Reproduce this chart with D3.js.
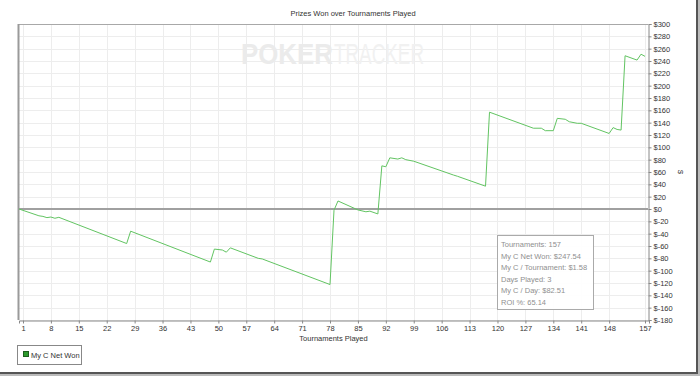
<!DOCTYPE html>
<html>
<head>
<meta charset="utf-8">
<script src="https://cdn.jsdelivr.net/npm/d3@7"></script>
<style>
  html, body { margin: 0; padding: 0; background: #fff; }
  svg { display: block; }
  text { font-family: "Liberation Sans", Arial, sans-serif; }
</style>
</head>
<body>
<svg id="chart" width="700" height="376"></svg>
<script>
// ---- data ----
const tournaments = [0,5,6,7,8,9,10,27,28,48,49,51,52,53,60,61,78,79,80,85,87,88,90,91,92,93,95,96,97,99,109,110,117,118,129,131,132,134,135,137,138,140,141,148,149,150,151,152,155,156,157];
const netWon = [0,-11,-12,-14,-13,-15,-13.5,-56,-36,-86,-65,-66.5,-70,-63,-80,-81,-122.5,-2,13,-1.5,-4.5,-3.5,-8,70,68.5,83,81,83,80,77.5,55,53,37,157,131,131,127,127,147,145.5,141.5,139,139,122.5,132,129,128,248.5,241.5,251,247.54];
const xTicks = [1,8,15,22,29,36,43,50,57,64,71,78,85,92,99,106,113,120,127,134,141,148,157];
const yTicks = [-180,-160,-140,-120,-100,-80,-60,-40,-20,0,20,40,60,80,100,120,140,160,180,200,220,240,260,280,300];
const statsLines = ["Tournaments: 157","My C Net Won: $247.54","My C / Tournament: $1.58","Days Played: 3","My C / Day: $82.51","ROI %: 65.14"];
const seriesName = "My C Net Won";
const chartTitle = "Prizes Won over Tournaments Played";
const xTitle = "Tournaments Played";
const yTitle = "$";

const svg = d3.select("#chart");
const L = 19, R = 648, T = 24, B = 320;
const x = d3.scaleLinear().domain([0, 158]).range([L, R + 1]);
const y = d3.scaleLinear().domain([-180, 300]).range([B, T]);

// gridlines
const grid = svg.append("g").attr("shape-rendering","crispEdges");
grid.selectAll(".hg").data(yTicks).enter().append("line")
  .attr("x1", L).attr("x2", R).attr("y1", d => Math.round(y(d))+0.5).attr("y2", d => Math.round(y(d))+0.5)
  .attr("stroke", "#ededed").attr("stroke-width", 1);
grid.selectAll(".vg").data(xTicks).enter().append("line")
  .attr("y1", T).attr("y2", B).attr("x1", d => Math.round(x(d))+0.5).attr("x2", d => Math.round(x(d))+0.5)
  .attr("stroke", "#ededed").attr("stroke-width", 1);

// watermark
const wm = svg.append("g");
wm.append("text").attr("x", 241).attr("y", 64).attr("font-size", 29).attr("font-weight", "bold")
  .attr("fill", "#ebebeb").attr("textLength", 92).attr("lengthAdjust","spacingAndGlyphs").text("POKER");
wm.append("text").attr("x", 334).attr("y", 64).attr("font-size", 29)
  .attr("fill", "#f1f1f1").attr("textLength", 90).attr("lengthAdjust","spacingAndGlyphs").text("TRACKER");

// frame lines
svg.append("line").attr("x1", L).attr("x2", R).attr("y1", T+0.5).attr("y2", T+0.5).attr("stroke", "#a8a8a8");
svg.append("line").attr("x1", L-0.5).attr("x2", L-0.5).attr("y1", T).attr("y2", B).attr("stroke", "#9a9a9a").attr("stroke-width", 2);

// zero line
svg.append("line").attr("x1", L).attr("x2", R).attr("y1", y(0)).attr("y2", y(0))
  .attr("stroke", "#a0a0a0").attr("stroke-width", 2);

// right axis
const yAxis = d3.axisRight(y).tickValues(yTicks).tickSize(3).tickPadding(2).tickFormat(d => "$" + d);
const ga = svg.append("g").attr("transform", `translate(${R+0.5},0)`).call(yAxis);
ga.select(".domain").attr("stroke", "#888");
ga.selectAll(".tick line").attr("stroke", "#888");
ga.selectAll("text").attr("font-size", 7.5).attr("fill", "#333").attr("font-family", "Liberation Sans, Arial, sans-serif");

// bottom axis
const xAxis = d3.axisBottom(x).tickValues(xTicks).tickSize(3).tickPadding(2).tickFormat(d3.format("d"));
const gb = svg.append("g").attr("transform", `translate(0,${B+0.5})`).call(xAxis);
gb.select(".domain").attr("stroke", "#888");
gb.selectAll(".tick line").attr("stroke", "#888");
gb.selectAll("text").attr("font-size", 7.5).attr("fill", "#333").attr("font-family", "Liberation Sans, Arial, sans-serif");

// series line
const pts = tournaments.map((t, i) => [t, netWon[i]]);
svg.append("path").datum(pts)
  .attr("d", d3.line().x(d => x(d[0])).y(d => y(d[1])))
  .attr("fill", "none").attr("stroke", "#62c462").attr("stroke-width", 1);

// title + axis titles
svg.append("text").attr("x", 353).attr("y", 16).attr("text-anchor","middle").attr("font-size", 7.5).attr("fill","#333").text(chartTitle);
svg.append("text").attr("x", (L+R)/2).attr("y", 341).attr("text-anchor","middle").attr("font-size", 7.5).attr("fill","#333").text(xTitle);
svg.append("text").attr("transform", `translate(678,${(T+B)/2}) rotate(90)`).attr("text-anchor","middle")
  .attr("font-size", 7.5).attr("fill","#333").text(yTitle);

// stats box
const sb = svg.append("g");
sb.append("rect").attr("x", 497.5).attr("y", 235.5).attr("width", 96).attr("height", 74)
  .attr("fill", "#fff").attr("fill-opacity", 0.9).attr("stroke", "#aaa");
sb.selectAll("text").data(statsLines).enter().append("text")
  .attr("x", 501).attr("y", (d,i) => 247 + i*11.6)
  .attr("font-family", "Lato, 'Open Sans', sans-serif").attr("font-size", 7.5).attr("fill", "#8f8f8f").text(d => d);

// legend
const lg = svg.append("g");
lg.append("rect").attr("x", 17.5).attr("y", 345.5).attr("width", 64).attr("height", 19)
  .attr("fill", "#fff").attr("stroke", "#888");
lg.append("rect").attr("x", 23.5).attr("y", 351.5).attr("width", 5).attr("height", 5)
  .attr("fill", "#2c9a2c").attr("stroke", "#1d5e1d");
lg.append("text").attr("x", 31).attr("y", 357.5).attr("font-size", 7.5).attr("fill", "#333").text(seriesName);

// outer border (right + bottom shadow)
svg.append("rect").attr("x", 0).attr("y", 372).attr("width", 700).attr("height", 2).attr("fill", "#555");
svg.append("rect").attr("x", 696).attr("y", 0).attr("width", 2).attr("height", 374).attr("fill", "#555");
svg.append("rect").attr("x", 0).attr("y", 374).attr("width", 700).attr("height", 2).attr("fill", "#bbb");
svg.append("rect").attr("x", 698).attr("y", 0).attr("width", 2).attr("height", 376).attr("fill", "#bbb");
</script>
</body>
</html>
